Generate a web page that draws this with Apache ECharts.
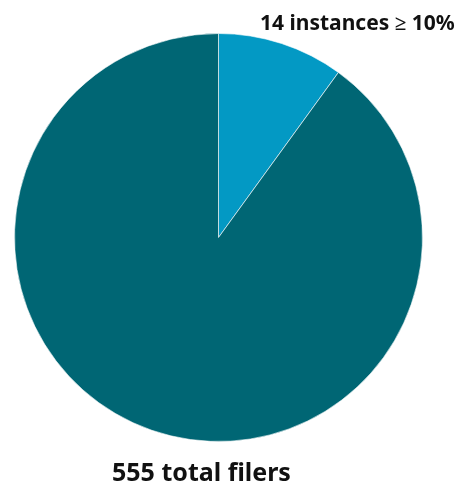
<!DOCTYPE html>
<html>
<head>
<meta charset="utf-8">
<script src="https://cdn.jsdelivr.net/npm/echarts@6/dist/echarts.min.js"></script>
<style>
  html, body { margin: 0; padding: 0; background: #fff; }
  #main { width: 461px; height: 486px; }
</style>
</head>
<body>
<div id="main"></div>
<script>
// slice shares as drawn in the picture (small slice ~ 36 degrees)
var sliceNames = ['14 instances ≥ 10%', 'other filers'];
var sliceValues = [10, 90];
var sliceColors = ['#0399c4', '#006674'];
var topLabel = '14 instances ≥ 10%';
var bottomLabel = '555 total filers';

var myChart = echarts.init(document.getElementById('main'));

var data = sliceNames.map(function (n, i) {
  return { name: n, value: sliceValues[i], itemStyle: { color: sliceColors[i] } };
});

var option = {
  backgroundColor: '#fff',
  animation: false,
  title: [{
    text: topLabel,
    left: 255,
    top: 9,
    textStyle: {
      fontFamily: 'Noto Sans',
      fontWeight: 'bold',
      fontSize: 21,
      color: '#111'
    }
  }, {
    text: bottomLabel,
    left: 107,
    top: 456,
    textStyle: {
      fontFamily: 'Noto Sans',
      fontWeight: 'bold',
      fontSize: 25,
      color: '#111'
    }
  }],
  series: [{
    type: 'pie',
    center: [218.5, 237.5],
    radius: 204,
    startAngle: 90,
    clockwise: true,
    label: { show: false },
    labelLine: { show: false },
    itemStyle: {
      borderColor: '#ffffff',
      borderWidth: 0.6
    },
    emphasis: { disabled: true },
    data: data
  }]
};

myChart.setOption(option);
</script>
</body>
</html>
